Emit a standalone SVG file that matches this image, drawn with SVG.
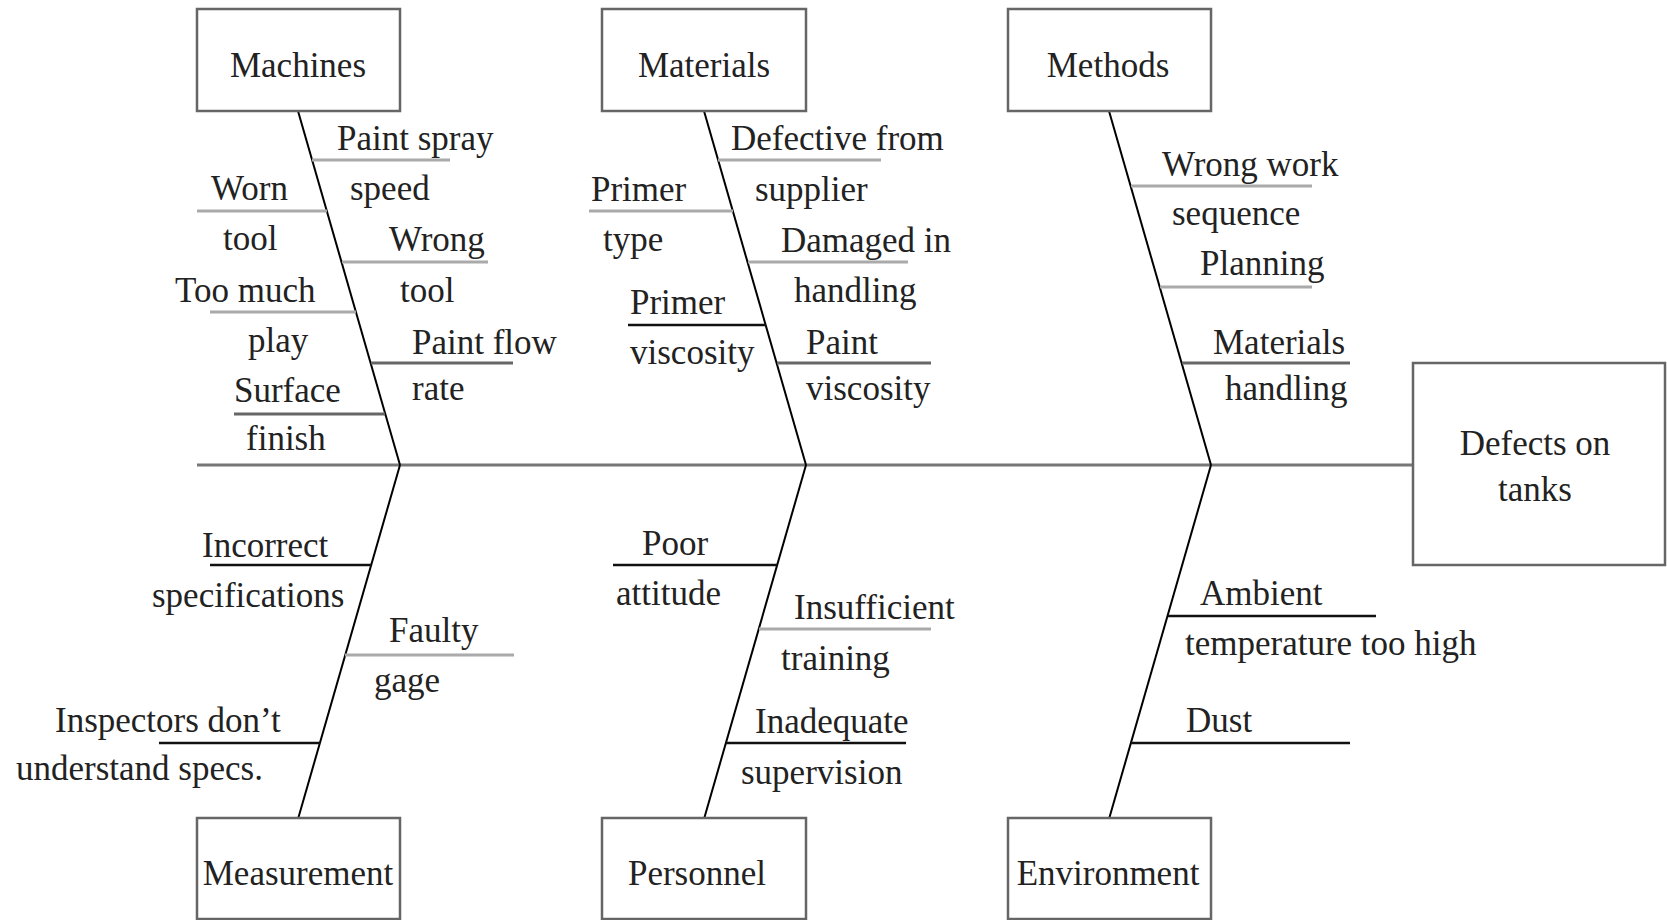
<svg xmlns="http://www.w3.org/2000/svg" width="1667" height="920" viewBox="0 0 1667 920">
<style>
  .c { text-anchor: middle; }
  .box { fill: #fff; stroke: #666; stroke-width: 2.5; }
  .spine { stroke: #777; stroke-width: 3; fill: none; }
  .bone { stroke: #000; stroke-width: 2; fill: none; }
  .lg { stroke: #aaa; stroke-width: 3; }
  .dg { stroke: #666; stroke-width: 3; }
  .bk { stroke: #111; stroke-width: 2.5; }
</style>
<rect width="1667" height="920" fill="#fff"/>
<g id="connectors">
  <line class="spine" x1="197" y1="465" x2="1413" y2="465"/>
  <line class="bone" x1="298" y1="111" x2="400" y2="465"/>
  <line class="bone" x1="704" y1="111" x2="806" y2="465"/>
  <line class="bone" x1="1109" y1="111" x2="1211" y2="465"/>
  <line class="bone" x1="400" y1="465" x2="298" y2="819"/>
  <line class="bone" x1="806" y1="465" x2="704" y2="819"/>
  <line class="bone" x1="1211" y1="465" x2="1109" y2="819"/>
  <line class="lg" x1="312" y1="160" x2="450" y2="160"/>
  <line class="lg" x1="197" y1="211" x2="327" y2="211"/>
  <line class="lg" x1="342" y1="262" x2="488" y2="262"/>
  <line class="lg" x1="210" y1="312" x2="356" y2="312"/>
  <line class="dg" x1="371" y1="363" x2="513" y2="363"/>
  <line class="dg" x1="234" y1="414" x2="385" y2="414"/>
  <line class="lg" x1="718" y1="160" x2="881" y2="160"/>
  <line class="lg" x1="589" y1="211" x2="733" y2="211"/>
  <line class="lg" x1="748" y1="262" x2="908" y2="262"/>
  <line class="bk" x1="628" y1="325" x2="766" y2="325"/>
  <line class="dg" x1="777" y1="363" x2="931" y2="363"/>
  <line class="lg" x1="1131" y1="186" x2="1312" y2="186"/>
  <line class="lg" x1="1160" y1="287" x2="1312" y2="287"/>
  <line class="dg" x1="1182" y1="363" x2="1350" y2="363"/>
  <line class="bk" x1="210" y1="565" x2="371" y2="565"/>
  <line class="lg" x1="345" y1="655" x2="514" y2="655"/>
  <line class="bk" x1="159" y1="743" x2="320" y2="743"/>
  <line class="bk" x1="613" y1="565" x2="777" y2="565"/>
  <line class="lg" x1="759" y1="629" x2="931" y2="629"/>
  <line class="bk" x1="726" y1="743" x2="906" y2="743"/>
  <line class="bk" x1="1168" y1="616" x2="1376" y2="616"/>
  <line class="bk" x1="1131" y1="743" x2="1350" y2="743"/>
</g>
<g font-family="Liberation Serif, Times New Roman, serif" font-size="35" fill="#222">
<g id="machines"><rect class="box" x="197" y="9" width="203" height="102"/><text class="c" x="298" y="77">Machines</text></g>
<g id="materials"><rect class="box" x="602" y="9" width="204" height="102"/><text class="c" x="704" y="77">Materials</text></g>
<g id="methods"><rect class="box" x="1008" y="9" width="203" height="102"/><text class="c" x="1108" y="77">Methods</text></g>
<g id="measurement"><rect class="box" x="197" y="818" width="203" height="101"/><text class="c" x="298" y="885">Measurement</text></g>
<g id="personnel"><rect class="box" x="602" y="818" width="204" height="101"/><text class="c" x="697" y="885">Personnel</text></g>
<g id="environment"><rect class="box" x="1008" y="818" width="203" height="101"/><text class="c" x="1108" y="885">Environment</text></g>
<g id="defects"><rect class="box" x="1413" y="363" width="252" height="202"/><text class="c" x="1535" y="455">Defects on</text><text class="c" x="1535" y="501">tanks</text></g>
<g id="machines-causes">
  <g id="paint-spray-speed"><text x="337" y="150">Paint spray</text><text x="350" y="200">speed</text></g>
  <g id="worn-tool"><text x="211" y="200">Worn</text><text x="223" y="250">tool</text></g>
  <g id="wrong-tool"><text x="389" y="251">Wrong</text><text x="400" y="302">tool</text></g>
  <g id="too-much-play"><text x="175" y="302">Too much</text><text x="248" y="352">play</text></g>
  <g id="paint-flow-rate"><text x="412" y="354">Paint flow</text><text x="412" y="400">rate</text></g>
  <g id="surface-finish"><text x="234" y="402">Surface</text><text x="246" y="450">finish</text></g>
</g>
<g id="materials-causes">
  <g id="defective-supplier"><text x="731" y="150">Defective from</text><text x="755" y="201">supplier</text></g>
  <g id="primer-type"><text x="591" y="201">Primer</text><text x="603" y="251">type</text></g>
  <g id="damaged-handling"><text x="781" y="252">Damaged in</text><text x="794" y="302">handling</text></g>
  <g id="primer-viscosity"><text x="630" y="314">Primer</text><text x="630" y="364">viscosity</text></g>
  <g id="paint-viscosity"><text x="806" y="354">Paint</text><text x="806" y="400">viscosity</text></g>
</g>
<g id="methods-causes">
  <g id="wrong-work-sequence"><text x="1162" y="176">Wrong work</text><text x="1172" y="225">sequence</text></g>
  <g id="planning"><text x="1200" y="275">Planning</text></g>
  <g id="materials-handling"><text x="1213" y="354">Materials</text><text x="1225" y="400">handling</text></g>
</g>
<g id="measurement-causes">
  <g id="incorrect-specs"><text x="202" y="557">Incorrect</text><text x="152" y="607">specifications</text></g>
  <g id="faulty-gage"><text x="389" y="642">Faulty</text><text x="374" y="692">gage</text></g>
  <g id="inspectors"><text x="55" y="732">Inspectors don’t</text><text x="16" y="780">understand specs.</text></g>
</g>
<g id="personnel-causes">
  <g id="poor-attitude"><text x="642" y="555">Poor</text><text x="616" y="605">attitude</text></g>
  <g id="insufficient-training"><text x="794" y="619">Insufficient</text><text x="781" y="670">training</text></g>
  <g id="inadequate-supervision"><text x="755" y="733">Inadequate</text><text x="741" y="784">supervision</text></g>
</g>
<g id="environment-causes">
  <g id="ambient-temp"><text x="1200" y="605">Ambient</text><text x="1185" y="655">temperature too high</text></g>
  <g id="dust"><text x="1186" y="732">Dust</text></g>
</g>
</g>
</svg>
